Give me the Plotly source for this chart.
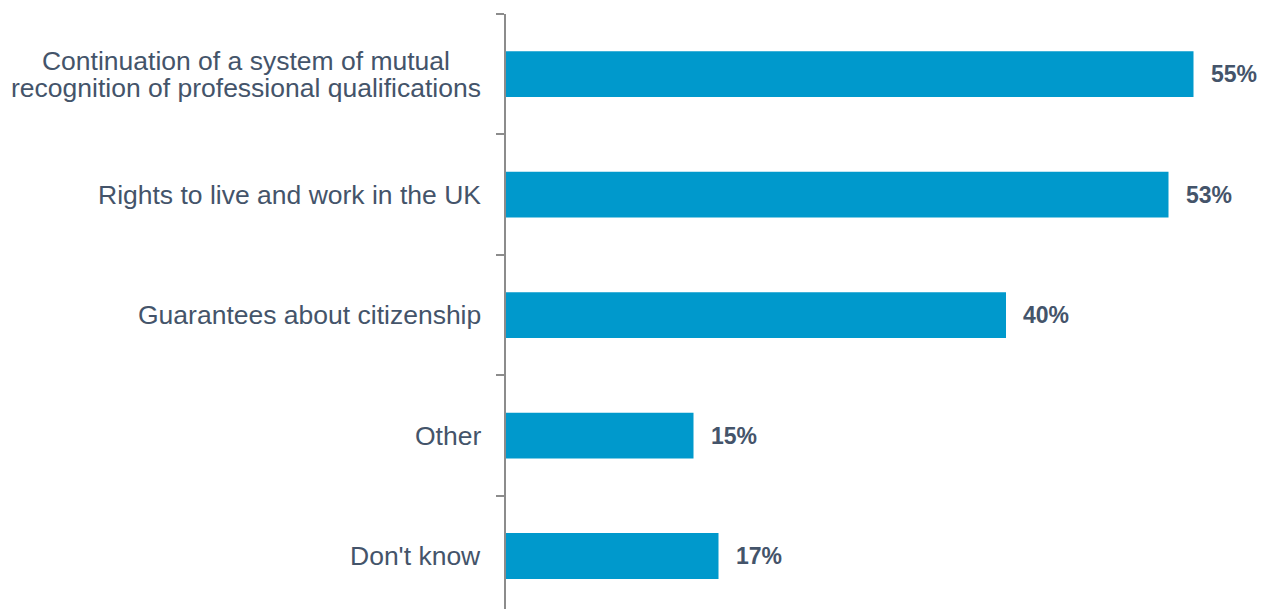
import plotly.graph_objects as go

categories = [
    "Continuation of a system of mutual<br>recognition of professional qualifications",
    "Rights to live and work in the UK",
    "Guarantees about citizenship",
    "Other",
    "Don't know",
]
values = [55, 53, 40, 15, 17]
value_labels = ["55%", "53%", "40%", "15%", "17%"]

bar_color = "#0099CC"
text_color = "#44546A"
axis_color = "#8C8C8C"
font_family = "Liberation Sans, Arial"

fig = go.Figure()
fig.add_trace(go.Bar(
    x=values,
    y=categories,
    orientation="h",
    marker=dict(color=bar_color, line=dict(width=0)),
    width=0.38,
    hoverinfo="skip",
))

# value labels to the right of each bar
for cat, val, lab in zip(categories, values, value_labels):
    fig.add_annotation(
        x=val, y=cat, text=f"<b>{lab}</b>", showarrow=False,
        xanchor="left", yanchor="middle", xshift=15,
        font=dict(family=font_family, size=23, color=text_color),
    )

# category labels: the base font size sets a tight line pitch,
# the inner spans set the glyph size
for cat in categories:
    lines = cat.split("<br>")
    txt = "<br>".join(f"<span style='font-size:26.5px'>{ln}</span>" for ln in lines)
    fig.add_annotation(
        x=0, xref="paper", y=cat, yref="y", text=txt, showarrow=False,
        xanchor="right", yanchor="middle", align="center", xshift=-23,
        font=dict(family=font_family, size=20.5, color=text_color),
    )

fig.update_layout(
    width=1263, height=609,
    margin=dict(l=506, r=7, t=14, b=0),
    plot_bgcolor="white", paper_bgcolor="white",
    showlegend=False,
    font=dict(family=font_family, size=21, color=text_color),
    xaxis=dict(range=[0, 60], visible=False, fixedrange=True),
    yaxis=dict(
        type="category",
        range=[4.44, -0.5],
        showline=True, linecolor=axis_color, linewidth=2,
        ticks="outside", tickson="boundaries", ticklen=8,
        tickcolor=axis_color, tickwidth=2,
        showgrid=False, zeroline=False,
        showticklabels=False,
    ),
)

fig.write_html("out.html")
